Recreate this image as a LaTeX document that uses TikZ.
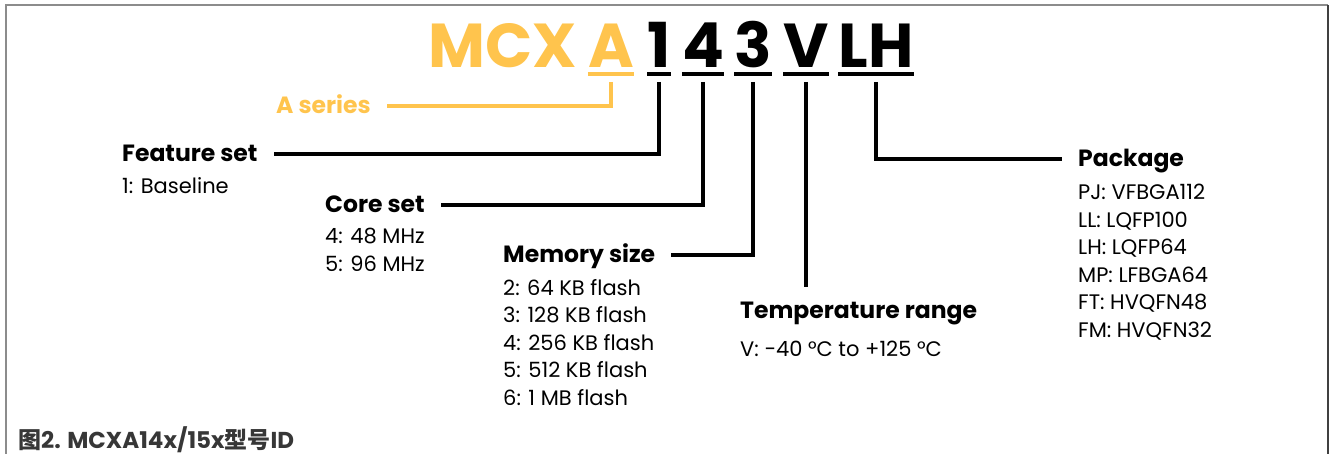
\documentclass[tikz,border=0pt]{standalone}
\usepackage{fontspec}
\setmainfont{Poppins}
\newfontfamily\cjk{Noto Sans CJK SC}
\usetikzlibrary{positioning}
\definecolor{seriesorange}{RGB}{255,196,77}
\definecolor{framegray}{RGB}{140,140,140}
\definecolor{captiongray}{RGB}{55,55,55}

\begin{document}
\begin{tikzpicture}[x=1pt, y=-1pt,
  code/.style={font={\fontsize{62}{62}\selectfont\bfseries}, inner sep=0pt, anchor=base},
  uline/.style={line width=4pt},
  link/.style={line width=4pt, shorten >=16pt},
  head/.style={font={\fontsize{23.5}{23.5}\selectfont\bfseries}, inner sep=0pt, anchor=base west, text height=16pt, text depth=0pt},
  items/.style={font={\fontsize{21}{27.5}\selectfont}, inner sep=0pt, anchor=north west, align=left}
]
\useasboundingbox (0,0) rectangle (1334,454);

\draw[framegray, line width=2pt] (5.5,454) -- (5.5,5.5) -- (1328,5.5);
\draw[black!75, line width=2pt] (1328,5.5) -- (1328,454);

\node[code, seriesorange] (mcx) at (503,68) {MCX};
\node[code, seriesorange] (codeA) at (611,68) {A};
\node[code] (code1) at (659,68) {1};
\node[code] (code4) at (703,68) {4};
\node[code] (code3) at (753,68) {3};
\node[code] (codeV) at (806,68) {V};
\node[code] (codeLH) at (876,68) {LH};

\foreach \n/\c in {codeA/seriesorange, code1/black, code4/black, code3/black, codeV/black, codeLH/black}
  \draw[uline, \c] ([yshift=-6pt]\n.base west) -- ([yshift=-6pt]\n.base east);

\node[head, seriesorange] (series) at (276,114) {A series};
\node[head] (feature) at (122,162) {Feature set};
\node[head] (core) at (325,213) {Core set};
\node[head] (memory) at (503,263) {Memory size};
\node[head] (temp) at (740,319) {Temperature range};
\node[head] (package) at (1078,167) {Package};

\node[items] (featurelist) at (122,177) {1: Baseline};
\node[items] (corelist) at (325,228) {4: 48 MHz\\5: 96 MHz};
\node[items] (memorylist) at (503,279) {2: 64 KB flash\\3: 128 KB flash\\4: 256 KB flash\\5: 512 KB flash\\6: 1 MB flash};
\node[items] (templist) at (740,341) {V: −40 °C to +125 °C};
\node[items] (packagelist) at (1078,184) {PJ: VFBGA112\\LL: LQFP100\\LH: LQFP64\\MP: LFBGA64\\FT: HVQFN48\\FM: HVQFN32};

\draw[link, seriesorange] ([yshift=-14pt]codeA.base) |- (series.east);
\draw[link] ([yshift=-14pt]code1.base) |- (feature.east);
\draw[link] ([yshift=-14pt]code4.base) |- (core.east);
\draw[link] ([yshift=-14pt]code3.base) |- (memory.east);
\draw[link] ([yshift=-14pt]codeV.base) -- (codeV.base |- temp.north);
\draw[link] ([yshift=-14pt]codeLH.base) |- (package.west);

\node[font={\fontsize{23}{23}\selectfont\bfseries}, text=captiongray, inner sep=0pt, anchor=base west] (caption) at (18,448) {{\cjk 图}2. MCXA14x/15x{\cjk 型号}ID};

\end{tikzpicture}
\end{document}
